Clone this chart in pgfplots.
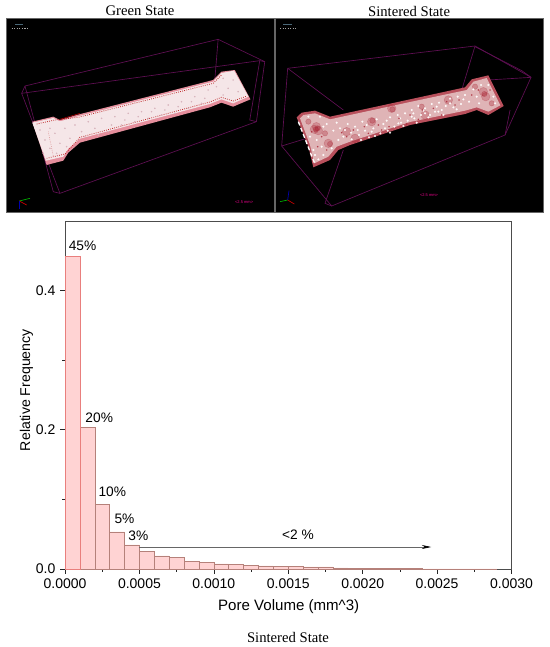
\documentclass[border=0pt]{standalone}
\usepackage{fontspec}
\setmainfont{Liberation Sans}
\newfontfamily\capfont{Liberation Serif}
\usepackage{pgfplots}
\pgfplotsset{compat=1.18}
\usetikzlibrary{arrows.meta}
\definecolor{barfill}{HTML}{FFD3D3}
\definecolor{baredge}{HTML}{B5817A}
\definecolor{wire}{HTML}{5E0F52}
\definecolor{spec}{HTML}{F5E6E8}
\definecolor{specside}{HTML}{E58E9C}
\definecolor{specdot}{HTML}{D8B4BC}
\definecolor{sinter}{HTML}{B9505C}
\definecolor{sinterbody}{HTML}{DFB4B6}
\definecolor{sinterdark}{HTML}{A82030}
\pgfplotsset{panel/.style={
  scale only axis, width=201.3pt, height=145pt,
  ymin=56, ymax=636, y dir=reverse,
  ticks=none, axis line style={black!60, line width=0.4pt},
  axis background/.style={fill=black}, clip=true,
}}
\begin{document}
\begin{tikzpicture}
\path (0,0) rectangle (412.5pt,485.25pt);

% titles and caption
\node[font=\capfont\fontsize{11}{12}\selectfont] at (105pt,477pt) {Green State};
\node[font=\capfont\fontsize{11}{12}\selectfont] at (306.8pt,477pt) {Sintered State};
\node[font=\capfont\fontsize{11}{12}\selectfont] at (216pt,7.5pt) {Sintered State};

% left scan
\begin{axis}[panel, at={(4.75pt,326.25pt)}, anchor=south west, xmin=19, xmax=825]
\addplot[wire, line width=0.5pt] coordinates {(75,258)(655,118)(795,185)(770,365)(180,580)(65,280)(75,258)};
\addplot[wire, line width=0.5pt] coordinates {(65,280)(780,182)(795,185)};
\addplot[wire, line width=0.5pt] coordinates {(655,118)(640,300)};
\addplot[wire, line width=0.5pt] coordinates {(75,258)(160,575)(180,580)};
\addplot[wire, line width=0.5pt] coordinates {(640,300)(160,450)};
\addplot[wire, line width=0.5pt] coordinates {(780,182)(750,360)(770,365)};
\addplot[specside, fill=specside, draw=none] coordinates {(97,365)(160,350)(180,360)(230,345)(640,240)(665,215)(705,210)(752,298)(700,320)(665,308)(630,322)(240,428)(205,458)(190,482)(140,495)} -- cycle;
\addplot[spec, fill=spec, draw=none] coordinates {(97,368)(160,354)(180,364)(230,350)(640,245)(665,219)(703,212)(746,290)(700,310)(665,298)(630,312)(240,416)(205,446)(190,470)(138,482)} -- cycle;
% speckle of the green part
\addplot[only marks, mark=*, mark size=0.35pt, specdot, mark options={draw=none}] coordinates {
(120,390)(135,420)(150,445)(165,400)(180,430)(195,385)(210,415)(225,375)(245,395)(265,365)(285,385)(305,355)(325,395)(345,350)
(365,375)(385,340)(405,365)(425,335)(445,355)(465,325)(485,345)(505,315)(525,340)(545,305)(565,325)(585,290)(605,310)(625,270)
(650,260)(670,235)(685,265)(700,240)(715,275)(670,285)(255,410)(295,405)(335,375)(375,360)(415,350)(455,335)(495,330)(535,320)
(575,305)(615,295)(150,385)(130,460)(170,460)(200,440)};
% dotted red seams
\addplot[red!70!black, densely dotted, line width=0.6pt, opacity=0.8] coordinates {(110,372)(165,360)(235,352)(640,250)(665,225)};
\addplot[red!70!black, densely dotted, line width=0.6pt, opacity=0.8] coordinates {(140,475)(195,462)(240,412)(630,306)(665,292)(700,303)(742,288)};
\addplot[red!70!black, densely dotted, line width=0.4pt, opacity=0.5] coordinates {(145,395)(160,468)};
\addplot[red!70!black, line width=0.4pt] coordinates {(180,358)(240,340)};
% axis triad and scale bar
\addplot[green!70!black, line width=0.5pt] coordinates {(58,603)(90,595)};
\addplot[red!80!black, line width=0.5pt] coordinates {(58,603)(80,615)};
\addplot[blue!70!black, line width=0.5pt] coordinates {(58,603)(58,628)};
\addplot[black!35!white, line width=0.9pt, densely dotted] coordinates {(35,85)(82,85)};
\addplot[cyan!40!black, line width=1.2pt] coordinates {(45,74)(70,74)};
\node[text=magenta, font=\fontsize{3}{3}\selectfont] at (axis cs:733,606) {<2.5 mm>};
\end{axis}

% right scan
\begin{axis}[panel, at={(206.25pt,326.25pt)}, anchor=south west, xmin=0, xmax=805]
\addplot[wire, line width=0.5pt] coordinates {(38,205)(600,138)(768,232)(690,405)(170,618)(20,438)(38,205)};
\addplot[wire, line width=0.5pt] coordinates {(38,205)(205,330)};
\addplot[wire, line width=0.5pt] coordinates {(600,138)(560,270)};
\addplot[wire, line width=0.5pt] coordinates {(20,438)(95,415)};
\addplot[wire, line width=0.5pt] coordinates {(205,450)(150,610)(170,618)};
\addplot[wire, line width=0.5pt] coordinates {(768,232)(640,240)};
\addplot[wire, line width=0.5pt] coordinates {(690,405)(705,330)};
\addplot[wire, line width=0.5pt] coordinates {(600,140)(740,212)(768,232)};
\addplot[sinter, fill=sinter, draw=none] coordinates {(65,352)(80,338)(120,332)(165,350)(405,298)(570,262)(590,238)(640,226)(686,318)(640,345)(605,330)(570,342)(405,375)(225,435)(190,450)(165,480)(115,502)(100,440)} -- cycle;
\addplot[sinterbody, fill=sinterbody, draw=none] coordinates {(75,355)(85,345)(120,340)(165,358)(405,306)(575,270)(595,245)(635,234)(676,316)(640,335)(605,322)(570,332)(405,366)(225,425)(185,440)(160,470)(118,490)(105,435)} -- cycle;
% dark patches
\addplot[only marks, mark=*, mark size=3.2pt, sinterdark, opacity=0.25, mark options={draw=none}] coordinates {
(118,388)(130,392)(124,380)(160,430)(625,275)(632,290)(290,365)(350,325)(520,300)(215,395)(240,415)(450,345)};
\addplot[only marks, mark=*, mark size=2pt, sinterdark, opacity=0.3, mark options={draw=none}] coordinates {
(122,388)(128,385)(628,282)(165,432)(292,362)(352,328)(100,365)(150,400)(440,320)(600,260)(650,310)};
% white grains
\addplot[only marks, mark=*, mark size=0.6pt, white, opacity=0.8, mark options={draw=none}] coordinates {
(195,385)(205,410)(218,372)(228,398)(240,380)(252,405)(262,365)(270,392)(282,412)(295,385)(305,358)(316,400)(325,372)(338,392)
(345,352)(358,380)(368,345)(378,368)(390,340)(398,362)(410,330)(418,355)(430,318)(438,345)(450,325)(460,352)(470,312)(480,335)
(492,308)(500,330)(512,318)(525,296)(535,322)(548,290)(558,312)(570,285)(582,305)(595,268)(605,290)(618,255)(640,255)(655,290)
(612,310)(660,310)(230,418)(258,420)(300,408)(345,398)(385,378)(425,368)(465,345)(505,345)(545,328)(100,350)(135,350)(155,372)
(175,392)(145,380)(105,410)(125,420)(140,440)(115,450)(145,465)(130,478)(170,445)(190,420)(185,368)(120,465)(415,340)(375,355)
(335,362)(275,375)(445,332)(485,320)(525,310)(565,298)(210,390)(248,390)(290,395)(330,385)(370,370)(410,350)(450,340)(490,335)};
\addplot[only marks, mark=*, mark size=0.4pt, sinterdark, opacity=0.6, mark options={draw=none}] coordinates {
(200,398)(235,390)(268,380)(310,375)(342,380)(372,355)(405,345)(442,330)(475,325)(515,305)(552,300)(590,285)(610,270)(645,270)
(110,395)(140,410)(155,450)(128,440)(215,410)(280,400)(320,390)(395,372)(430,358)(500,345)(540,315)};
\addplot[white, densely dashed, line width=1pt] coordinates {(70,365)(118,488)};
% axis triad and scale bar
\addplot[green!70!black, line width=0.5pt] coordinates {(38,600)(15,605)};
\addplot[red!80!black, line width=0.5pt] coordinates {(38,600)(58,612)};
\addplot[blue!70!black, line width=0.5pt] coordinates {(38,600)(42,572)};
\addplot[black!35!white, line width=0.9pt, densely dotted] coordinates {(15,85)(62,85)};
\addplot[cyan!40!black, line width=1.2pt] coordinates {(25,74)(50,74)};
\node[text=magenta, font=\fontsize{3}{3}\selectfont] at (axis cs:462,584) {<2.5 mm>};
\end{axis}

% histogram
\begin{axis}[
  at={(48.75pt,58.5pt)}, anchor=south west,
  scale only axis, width=334.9pt, height=261pt,
  xmin=0, xmax=0.003, ymin=0, ymax=0.5,
  xtick={0,0.0005,0.001,0.0015,0.002,0.0025,0.003},
  ytick={0,0.2,0.4},
  minor x tick num=1, minor y tick num=1,
  tick pos=lower, tick align=outside,
  major tick length=3.7pt, minor tick length=2.2pt,
  tick style={black!85, line width=0.5pt},
  scaled x ticks=false,
  x tick label style={/pgf/number format/.cd, fixed, fixed zerofill, precision=4, assume math mode=true},
  y tick label style={/pgf/number format/.cd, fixed, fixed zerofill, precision=1, assume math mode=true},
  tick label style={font=\fontsize{10.5}{12}\selectfont},
  xlabel={Pore Volume (mm\textasciicircum 3)},
  ylabel={Relative Frequency},
  xlabel style={font=\fontsize{11.3}{12}\selectfont, at={(axis description cs:0.501,-0.109)}, anchor=center},
  ylabel style={font=\fontsize{10.6}{12}\selectfont, at={(axis description cs:-0.0865,0.514)}, anchor=center},
  axis line style={black!70, line width=0.6pt},
  clip=false,
]
\addplot[ybar, bar width=0.0001, bar shift=0pt, fill=barfill, draw=baredge, line width=0.35pt] coordinates {
(0.00015,0.203)(0.00025,0.0925)(0.00035,0.0535)(0.00045,0.0345)(0.00055,0.025)(0.00065,0.0188)(0.00075,0.0168)
(0.00085,0.011)(0.00095,0.0096)(0.00105,0.0072)(0.00115,0.0066)(0.00125,0.0052)(0.00135,0.0045)(0.00145,0.004)
(0.00155,0.0036)(0.00165,0.003)(0.00175,0.0032)(0.00185,0.0016)(0.00195,0.001)(0.00205,0.0008)(0.00215,0.0006)
(0.00225,0.0005)(0.00235,0.0004)(0.00245,0.0003)(0.00255,0.0002)(0.00265,0.0002)(0.00275,0.0002)(0.00285,0.0001)};
\addplot[ybar, bar width=0.0001, bar shift=0pt, fill=barfill, draw=barfill!60!red!70!baredge, line width=0.35pt] coordinates {(0.00005,0.45)};
\addplot[black!60, line width=0.5pt, -{Stealth[length=7pt,width=3pt,black]}] coordinates {(0.0005,0.0316)(0.00246,0.0316)};
\node[font=\fontsize{10.3}{12}\selectfont] at (axis cs:0.000118,0.4645) {45\%};
\node[font=\fontsize{10.3}{12}\selectfont] at (axis cs:0.00023,0.2174) {20\%};
\node[font=\fontsize{10.3}{12}\selectfont] at (axis cs:0.000318,0.1106) {10\%};
\node[font=\fontsize{10.3}{12}\selectfont] at (axis cs:0.00040,0.0718) {5\%};
\node[font=\fontsize{10.3}{12}\selectfont] at (axis cs:0.000493,0.0474) {3\%};
\node[font=\fontsize{10.3}{12}\selectfont] at (axis cs:0.001565,0.0485) {<2 \%};
\end{axis}
\end{tikzpicture}
\end{document}
